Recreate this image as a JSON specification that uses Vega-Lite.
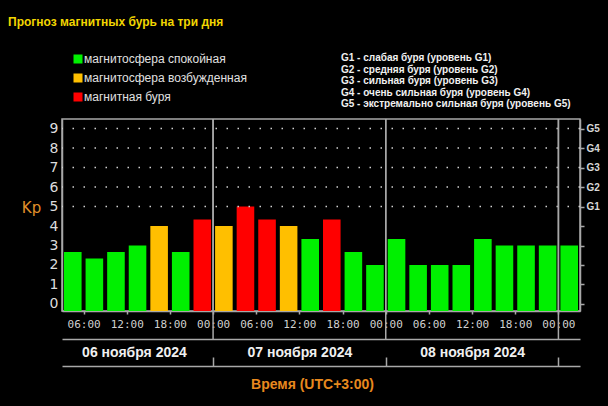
{
  "$schema": "https://vega.github.io/schema/vega-lite/v6.json",
  "width": 518,
  "height": 192,
  "autosize": "none",
  "padding": {"left": 62, "top": 119, "right": 28, "bottom": 95},
  "background": "#000000",
  "title": {
    "text": "Прогноз магнитных бурь на три дня",
    "anchor": "start",
    "frame": "group",
    "color": "#f2d600",
    "font": "Liberation Sans",
    "fontWeight": "bold",
    "fontSize": 12,
    "dx": -54,
    "offset": 24
  },
  "config": {
    "view": {"stroke": "#a8a8a8", "strokeWidth": 1.5},
    "font": "DejaVu Sans",
    "legend": {"padding": 0}
  },
  "datasets": {
    "kpdata": [
      {"start": "2024-11-06T03:00:00", "end": "2024-11-06T06:00:00", "kp": 2.67, "status": "магнитосфера спокойная"},
      {"start": "2024-11-06T06:00:00", "end": "2024-11-06T09:00:00", "kp": 2.33, "status": "магнитосфера спокойная"},
      {"start": "2024-11-06T09:00:00", "end": "2024-11-06T12:00:00", "kp": 2.67, "status": "магнитосфера спокойная"},
      {"start": "2024-11-06T12:00:00", "end": "2024-11-06T15:00:00", "kp": 3.0, "status": "магнитосфера спокойная"},
      {"start": "2024-11-06T15:00:00", "end": "2024-11-06T18:00:00", "kp": 4.0, "status": "магнитосфера возбужденная"},
      {"start": "2024-11-06T18:00:00", "end": "2024-11-06T21:00:00", "kp": 2.67, "status": "магнитосфера спокойная"},
      {"start": "2024-11-06T21:00:00", "end": "2024-11-07T00:00:00", "kp": 4.33, "status": "магнитная буря"},
      {"start": "2024-11-07T00:00:00", "end": "2024-11-07T03:00:00", "kp": 4.0, "status": "магнитосфера возбужденная"},
      {"start": "2024-11-07T03:00:00", "end": "2024-11-07T06:00:00", "kp": 5.0, "status": "магнитная буря"},
      {"start": "2024-11-07T06:00:00", "end": "2024-11-07T09:00:00", "kp": 4.33, "status": "магнитная буря"},
      {"start": "2024-11-07T09:00:00", "end": "2024-11-07T12:00:00", "kp": 4.0, "status": "магнитосфера возбужденная"},
      {"start": "2024-11-07T12:00:00", "end": "2024-11-07T15:00:00", "kp": 3.33, "status": "магнитосфера спокойная"},
      {"start": "2024-11-07T15:00:00", "end": "2024-11-07T18:00:00", "kp": 4.33, "status": "магнитная буря"},
      {"start": "2024-11-07T18:00:00", "end": "2024-11-07T21:00:00", "kp": 2.67, "status": "магнитосфера спокойная"},
      {"start": "2024-11-07T21:00:00", "end": "2024-11-08T00:00:00", "kp": 2.0, "status": "магнитосфера спокойная"},
      {"start": "2024-11-08T00:00:00", "end": "2024-11-08T03:00:00", "kp": 3.33, "status": "магнитосфера спокойная"},
      {"start": "2024-11-08T03:00:00", "end": "2024-11-08T06:00:00", "kp": 2.0, "status": "магнитосфера спокойная"},
      {"start": "2024-11-08T06:00:00", "end": "2024-11-08T09:00:00", "kp": 2.0, "status": "магнитосфера спокойная"},
      {"start": "2024-11-08T09:00:00", "end": "2024-11-08T12:00:00", "kp": 2.0, "status": "магнитосфера спокойная"},
      {"start": "2024-11-08T12:00:00", "end": "2024-11-08T15:00:00", "kp": 3.33, "status": "магнитосфера спокойная"},
      {"start": "2024-11-08T15:00:00", "end": "2024-11-08T18:00:00", "kp": 3.0, "status": "магнитосфера спокойная"},
      {"start": "2024-11-08T18:00:00", "end": "2024-11-08T21:00:00", "kp": 3.0, "status": "магнитосфера спокойная"},
      {"start": "2024-11-08T21:00:00", "end": "2024-11-09T00:00:00", "kp": 3.0, "status": "магнитосфера спокойная"},
      {"start": "2024-11-09T00:00:00", "end": "2024-11-09T03:00:00", "kp": 3.0, "status": "магнитосфера спокойная"}
    ],
    "glevels": [
      {"kp": 5, "desc": "G1 - слабая буря (уровень G1)"},
      {"kp": 6, "desc": "G2 - средняя буря (уровень G2)"},
      {"kp": 7, "desc": "G3 - сильная буря (уровень G3)"},
      {"kp": 8, "desc": "G4 - очень сильная буря (уровень G4)"},
      {"kp": 9, "desc": "G5 - экстремально сильная буря (уровень G5)"}
    ],
    "days": [
      {"day": "06 ноября 2024", "boundary": "2024-11-07T00:00:00"},
      {"day": "07 ноября 2024", "boundary": "2024-11-08T00:00:00"},
      {"day": "08 ноября 2024", "boundary": "2024-11-09T00:00:00"}
    ]
  },
  "layer": [
    {
      "data": {"name": "kpdata"},
      "mark": {"type": "bar", "xOffset": 2, "x2Offset": -2},
      "encoding": {
        "x": {
          "field": "start", "type": "temporal",
          "scale": {"domain": ["2024-11-06T03:00:00", "2024-11-09T03:00:00"], "nice": false},
          "axis": {
            "title": null,
            "orient": "bottom",
            "values": [
              {"year": 2024, "month": 11, "date": 6, "hours": 6},
              {"year": 2024, "month": 11, "date": 6, "hours": 12},
              {"year": 2024, "month": 11, "date": 6, "hours": 18},
              {"year": 2024, "month": 11, "date": 7, "hours": 0},
              {"year": 2024, "month": 11, "date": 7, "hours": 6},
              {"year": 2024, "month": 11, "date": 7, "hours": 12},
              {"year": 2024, "month": 11, "date": 7, "hours": 18},
              {"year": 2024, "month": 11, "date": 8, "hours": 0},
              {"year": 2024, "month": 11, "date": 8, "hours": 6},
              {"year": 2024, "month": 11, "date": 8, "hours": 12},
              {"year": 2024, "month": 11, "date": 8, "hours": 18},
              {"year": 2024, "month": 11, "date": 9, "hours": 0}
            ],
            "format": "%H:%M",
            "labelOverlap": false,
            "labelFlush": false,
            "labelFont": "DejaVu Sans Mono",
            "labelFontSize": 11,
            "labelColor": "#d0d0d0",
            "labelBaseline": "middle",
            "labelPadding": 10,
            "grid": false,
            "domainColor": "#a8a8a8",
            "domainWidth": 1.5,
            "tickColor": "#a8a8a8",
            "tickWidth": 1.5,
            "tickSize": 3
          }
        },
        "x2": {"field": "end"},
        "y": {
          "field": "kp", "type": "quantitative",
          "stack": null,
          "scale": {"domain": [-0.36, 9.49], "nice": false, "zero": false},
          "axis": {
            "orient": "left",
            "values": [0, 1, 2, 3, 4, 5, 6, 7, 8, 9],
            "grid": false,
            "tickSize": 0,
            "labelPadding": 4,
            "labelFontSize": 14,
            "labelColor": "#dcdcdc",
            "domainColor": "#a8a8a8",
            "domainWidth": 1.5,
            "title": "Kp",
            "titleAngle": 0,
            "titleX": -31,
            "titleY": 88,
            "titleAlign": "center",
            "titleBaseline": "middle",
            "titleColor": "#e0902a",
            "titleFontSize": 15,
            "titleFontWeight": "normal"
          }
        },
        "y2": {"datum": -0.36},
        "color": {
          "field": "status", "type": "nominal",
          "scale": {
            "domain": ["магнитосфера спокойная", "магнитосфера возбужденная", "магнитная буря"],
            "range": ["#00f000", "#ffbf00", "#ff0000"]
          },
          "legend": {
            "title": null,
            "orient": "none",
            "legendX": 10,
            "legendY": -66,
            "symbolType": "square",
            "symbolSize": 81,
            "labelOffset": 0,
            "labelFont": "Liberation Sans",
            "labelFontSize": 12,
            "labelLimit": 300,
            "labelColor": "#e0e0e0",
            "rowPadding": 7
          }
        }
      }
    },
    {
      "data": {"name": "glevels"},
      "mark": {"type": "rule", "color": "#d0d0d0", "strokeWidth": 1.5},
      "encoding": {
        "y": {
          "field": "kp", "type": "quantitative",
          "scale": {"domain": [-0.36, 9.49], "nice": false, "zero": false},
          "axis": {
            "orient": "right",
            "title": null,
            "values": [0, 1, 2, 3, 4, 5, 6, 7, 8, 9],
            "labelExpr": "datum.value >= 5 ? 'G' + (datum.value - 4) : ''",
            "grid": false,
            "tickSize": 4,
            "tickColor": "#a8a8a8",
            "tickWidth": 1.5,
            "labelPadding": 2,
            "labelFont": "Liberation Sans",
            "labelFontWeight": "bold",
            "labelFontSize": 10,
            "labelColor": "#d8d8d8",
            "domainColor": "#a8a8a8",
            "domainWidth": 1.5
          }
        },
        "strokeDash": {
          "field": "desc", "type": "nominal",
          "scale": {
            "domain": ["G1 - слабая буря (уровень G1)", "G2 - средняя буря (уровень G2)", "G3 - сильная буря (уровень G3)", "G4 - очень сильная буря (уровень G4)", "G5 - экстремально сильная буря (уровень G5)"],
            "range": [[1.5, 9.5], [1.5, 9.5], [1.5, 9.5], [1.5, 9.5], [1.5, 9.5]]
          },
          "legend": {
            "title": null,
            "orient": "none",
            "legendX": 269,
            "legendY": -66,
            "symbolSize": 0,
            "symbolStrokeWidth": 0,
            "symbolOpacity": 0,
            "labelOffset": 0,
            "labelLimit": 300,
            "labelFont": "Liberation Sans",
            "labelFontWeight": "bold",
            "labelFontSize": 10,
            "labelColor": "#f0f0f0",
            "rowPadding": 1.5
          }
        }
      }
    },
    {
      "data": {"name": "days"},
      "mark": {"type": "rule", "color": "#a8a8a8", "strokeWidth": 1.5, "clip": false},
      "encoding": {
        "x": {
          "field": "boundary", "type": "temporal",
          "scale": {"domain": ["2024-11-06T03:00:00", "2024-11-09T03:00:00"], "nice": false},
          "axis": {
            "orient": "bottom",
            "offset": 28,
            "title": null,
            "values": [
              {"year": 2024, "month": 11, "date": 6, "hours": 13},
              {"year": 2024, "month": 11, "date": 7, "hours": 12},
              {"year": 2024, "month": 11, "date": 8, "hours": 12}
            ],
            "labelExpr": "timeFormat(datum.value, '%d') + ' ноября ' + timeFormat(datum.value, '%Y')",
            "labelOverlap": false,
            "labelFlush": false,
            "ticks": false,
            "grid": false,
            "labelPadding": 13,
            "labelBaseline": "middle",
            "labelFont": "Liberation Sans",
            "labelFontWeight": "bold",
            "labelFontSize": 14,
            "labelColor": "#f0f0f0",
            "domainColor": "#a8a8a8",
            "domainWidth": 1.5
          }
        },
        "y": {"datum": 9.49, "type": "quantitative", "axis": null},
        "y2": {"datum": -1.8}
      }
    },
    {
      "data": {"name": "days"},
      "mark": {"type": "rule", "color": "#a8a8a8", "strokeWidth": 1.5},
      "encoding": {
        "x": {
          "field": "boundary", "type": "temporal",
          "scale": {"domain": ["2024-11-06T03:00:00", "2024-11-09T03:00:00"], "nice": false},
          "axis": {
            "orient": "bottom",
            "offset": 55,
            "values": [
              {"year": 2024, "month": 11, "date": 7},
              {"year": 2024, "month": 11, "date": 8},
              {"year": 2024, "month": 11, "date": 9}
            ],
            "labels": false,
            "grid": false,
            "tickSize": -9,
            "tickColor": "#a8a8a8",
            "tickWidth": 1.5,
            "domainColor": "#a8a8a8",
            "domainWidth": 1.5,
            "title": "Время (UTC+3:00)",
            "titleX": 250,
            "titleY": 18,
            "titleAlign": "center",
            "titleBaseline": "middle",
            "titleColor": "#e8891e",
            "titleFont": "Liberation Sans",
            "titleFontWeight": "bold",
            "titleFontSize": 14
          }
        }
      }
    }
  ],
  "resolve": {"axis": {"x": "independent", "y": "independent"}}
}
